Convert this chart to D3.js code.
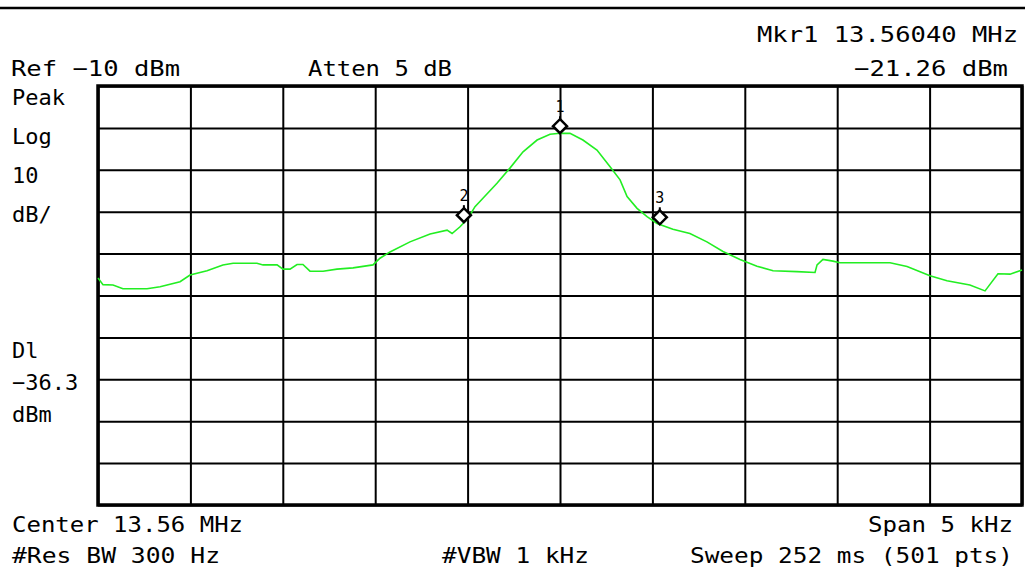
<!DOCTYPE html>
<html>
<head>
<meta charset="utf-8">
<script src="https://cdn.jsdelivr.net/npm/d3@7"></script>
<style>
  html, body { margin: 0; padding: 0; background: #fff; }
  svg { display: block; }
  text { font-family: "DejaVu Sans Mono", "Liberation Mono", monospace; fill: #000; }
</style>
</head>
<body>
<svg id="chart" width="1025" height="574"></svg>
<script>
// Trace: frequency offset from centre (Hz) and measured level (dBm)
const offsetHz = [-2500, -2473, -2419, -2365, -2235, -2164, -2056, -2002, -1910, -1824,
  -1769, -1640, -1607, -1531, -1499, -1461, -1423, -1391, -1353, -1282,
  -1207, -1120, -1012, -974, -920, -812, -703, -611, -584, -541,
  -498, -460, -417, -341, -271, -200, -124, -54, 0, 54,
  124, 200, 271, 325, 363, 417, 471, 525, 611, 703,
  795, 882, 974, 1066, 1153, 1282, 1380, 1391, 1423, 1477,
  1515, 1786, 1878, 2002, 2094, 2218, 2300, 2370, 2435, 2500];
const levelDbm = [-55.8, -57.4, -57.5, -58.4, -58.4, -57.9, -56.7, -55.1, -54.1, -52.7,
  -52.3, -52.3, -52.7, -52.7, -53.7, -53.7, -52.6, -52.6, -54.2, -54.2,
  -53.7, -53.4, -52.7, -51.1, -49.6, -47.2, -45.3, -44.4, -45.2, -43.6,
  -41.6, -38.8, -36.8, -33.2, -29.6, -25.7, -22.9, -21.5, -21.26, -21.3,
  -22.9, -25.3, -29.3, -32.4, -36.4, -39.2, -41.2, -42.8, -44.2, -45.2,
  -47.2, -49.5, -51.4, -53.0, -54.1, -54.3, -54.5, -52.7, -51.4, -51.8,
  -52.2, -52.2, -53.1, -55.3, -56.5, -57.5, -58.9, -54.8, -54.9, -53.9];

// Markers
const markerIds = ["1", "2", "3"];
const markerHz = [0, -520, 540];
const markerDbm = [-21.26, -42.5, -43.0];

// Display settings
const refLevel = -10;     // dBm at top graticule line
const dbPerDiv = 10;
const divisions = 10;
const spanHz = 5000;

// Annotation text
const topRight = ["Mkr1 13.56040 MHz", "\u221221.26 dBm"];
const leftInfo = ["Peak", "Log", "10", "dB/"];
const displayLine = ["Dl", "\u221236.3", "dBm"];

const svg = d3.select("#chart");
const plot = { left: 98, right: 1022, top: 86, bottom: 505 };

const x = d3.scaleLinear().domain([-spanHz / 2, spanHz / 2]).range([plot.left, plot.right]);
const y = d3.scaleLinear().domain([refLevel - dbPerDiv * divisions, refLevel]).range([plot.bottom, plot.top]);

// separator line across the top
svg.append("line").attr("x1", 0).attr("x2", 1025).attr("y1", 8).attr("y2", 8)
  .attr("stroke", "#000").attr("stroke-width", 2.5);

// graticule
const xTicks = d3.range(-spanHz / 2, spanHz / 2 + 1, spanHz / divisions);
const yTicks = d3.range(refLevel - dbPerDiv * divisions, refLevel + 1, dbPerDiv);

const gx = svg.append("g").attr("transform", `translate(0,${plot.bottom})`)
  .call(d3.axisBottom(x).tickValues(xTicks).tickSize(-(plot.bottom - plot.top)).tickFormat(""));
const gy = svg.append("g").attr("transform", `translate(${plot.left},0)`)
  .call(d3.axisLeft(y).tickValues(yTicks).tickSize(-(plot.right - plot.left)).tickFormat(""));
[gx, gy].forEach(g => {
  g.select(".domain").remove();
  g.selectAll(".tick line").attr("stroke", "#000").attr("stroke-width", 2);
});

// outer frame
svg.append("rect")
  .attr("x", plot.left).attr("y", plot.top)
  .attr("width", plot.right - plot.left).attr("height", plot.bottom - plot.top)
  .attr("fill", "none").attr("stroke", "#000").attr("stroke-width", 3.5);

// trace
const traceData = offsetHz.map((f, i) => [f, levelDbm[i]]);
svg.append("path")
  .datum(traceData)
  .attr("fill", "none")
  .attr("stroke", "#22ee22")
  .attr("stroke-width", 1.6)
  .attr("d", d3.line().x(d => x(d[0])).y(d => y(d[1])));

// markers: diamond sitting on the trace with its number above
const half = 7;
markerIds.forEach((id, i) => {
  const cx = x(markerHz[i]);
  const by = y(markerDbm[i]);
  const cy = by - half;
  const g = svg.append("g");
  g.append("line").attr("x1", cx).attr("x2", cx).attr("y1", cy - half - 3).attr("y2", cy - half)
    .attr("stroke", "#000").attr("stroke-width", 2);
  g.append("path")
    .attr("d", `M${cx},${cy - half}L${cx + half},${cy}L${cx},${cy + half}L${cx - half},${cy}Z`)
    .attr("fill", "#fff").attr("stroke", "#000").attr("stroke-width", 2.5);
  g.append("text").attr("x", cx).attr("y", cy - half - 7)
    .attr("text-anchor", "middle").attr("font-size", 15).text(id);
});

// annotation text
function label(txt, xPos, yPos, anchor, width) {
  const t = svg.append("text").attr("x", xPos).attr("y", yPos)
    .attr("text-anchor", anchor).attr("font-size", 22).text(txt);
  if (width) t.attr("textLength", width).attr("lengthAdjust", "spacingAndGlyphs");
  return t;
}

label(topRight[0], 1018, 42, "end", 261);
label(topRight[1], 1008, 76, "end", 154);
label("Ref \u221210 dBm", 11, 76, "start", 169);
label("Atten 5 dB", 308, 76, "start", 144);

leftInfo.forEach((t, i) => label(t, 12, 105 + i * 39, "start"));
displayLine.forEach((t, i) => label(t, 12, 358 + i * 32, "start"));

label("Center 13.56 MHz", 12, 532, "start", 231);
label("Span 5 kHz", 1013, 532, "end", 145);
label("#Res BW 300 Hz", 12, 563, "start", 208);
label("#VBW 1 kHz", 442, 563, "start", 147);
label("Sweep 252 ms (501 pts)", 1013, 563, "end", 323);
</script>
</body>
</html>
